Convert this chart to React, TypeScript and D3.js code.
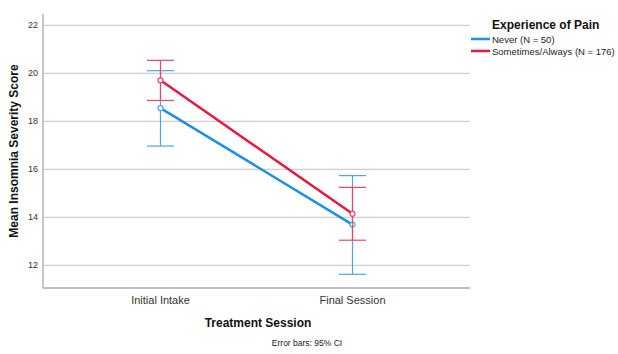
import React, { useEffect, useRef } from "react";
import * as d3 from "d3";

const sessions = ["Initial Intake", "Final Session"];
const seriesNames = ["Never (N = 50)", "Sometimes/Always (N = 176)"];
const seriesColors = ["#1e8ee6", "#e8173f"];
const barColors = ["#4aa6f0", "#ee4466"];
const neverMean = [18.55, 13.7];
const neverLow = [16.97, 11.63];
const neverHigh = [20.11, 15.74];
const painMean = [19.71, 14.15];
const painLow = [18.87, 13.05];
const painHigh = [20.54, 15.25];
const yTicks = [12, 14, 16, 18, 20, 22];

function App() {
  const svgRef = useRef<SVGSVGElement>(null);

  useEffect(() => {
    const svg = d3.select(svgRef.current);
    svg.selectAll("*").remove();
    const font = "'Liberation Sans', Arial, sans-serif";
    const left = 43;
    const right = 470;
    const top = 14;
    const bottom = 288;

    const x = d3.scalePoint().domain(sessions).range([left, right]).padding(0.612);
    const y = d3.scaleLinear().domain([11.06, 22.47]).range([bottom, top]);

    // gridlines
    svg
      .append("g")
      .selectAll("line")
      .data(yTicks)
      .join("line")
      .attr("x1", left)
      .attr("x2", right)
      .attr("y1", (d) => y(d))
      .attr("y2", (d) => y(d))
      .attr("stroke", "#cfcfcf")
      .attr("stroke-width", 1.3);

    // tick labels
    svg
      .append("g")
      .selectAll("text")
      .data(yTicks)
      .join("text")
      .attr("x", 38)
      .attr("y", (d) => y(d) + 3)
      .attr("text-anchor", "end")
      .attr("font-family", font)
      .attr("font-size", 9)
      .attr("fill", "#333")
      .text((d) => d);

    // axes lines
    svg
      .append("line")
      .attr("x1", left)
      .attr("x2", left)
      .attr("y1", top)
      .attr("y2", bottom)
      .attr("stroke", "#aaa")
      .attr("stroke-width", 1.3);
    svg
      .append("line")
      .attr("x1", left)
      .attr("x2", right)
      .attr("y1", bottom)
      .attr("y2", bottom)
      .attr("stroke", "#aaa")
      .attr("stroke-width", 1.3);

    // category labels
    svg
      .append("g")
      .selectAll("text")
      .data(sessions)
      .join("text")
      .attr("x", (d) => x(d)!)
      .attr("y", 304)
      .attr("text-anchor", "middle")
      .attr("font-family", font)
      .attr("font-size", 11)
      .attr("fill", "#333")
      .text((d) => d);

    const series = [
      { mean: neverMean, low: neverLow, high: neverHigh },
      { mean: painMean, low: painLow, high: painHigh },
    ];

    const line = d3
      .line<number>()
      .x((d, i) => x(sessions[i])!)
      .y((d) => y(d));

    series.forEach((s, k) => {
      const g = svg.append("g");
      const cap = 13.5;
      sessions.forEach((c, i) => {
        const cx = x(c)!;
        g.append("line")
          .attr("x1", cx)
          .attr("x2", cx)
          .attr("y1", y(s.low[i]))
          .attr("y2", y(s.high[i]))
          .attr("stroke", barColors[k])
          .attr("stroke-width", 1.2);
        [s.low[i], s.high[i]].forEach((v) => {
          g.append("line")
            .attr("x1", cx - cap)
            .attr("x2", cx + cap)
            .attr("y1", y(v))
            .attr("y2", y(v))
            .attr("stroke", barColors[k])
            .attr("stroke-width", 1.2);
        });
      });
      g.append("path")
        .datum(s.mean)
        .attr("fill", "none")
        .attr("stroke", seriesColors[k])
        .attr("stroke-width", 2.5)
        .attr("d", line);
      g.selectAll("circle")
        .data(s.mean)
        .join("circle")
        .attr("cx", (d, i) => x(sessions[i])!)
        .attr("cy", (d) => y(d))
        .attr("r", 2.5)
        .attr("fill", "white")
        .attr("stroke", barColors[k])
        .attr("stroke-width", 1.2);
    });

    // axis titles
    svg
      .append("text")
      .attr("transform", "translate(18," + (top + bottom) / 2 + ") rotate(-90)")
      .attr("text-anchor", "middle")
      .attr("font-family", font)
      .attr("font-size", 12)
      .attr("font-weight", "bold")
      .attr("fill", "#111")
      .text("Mean Insomnia Severity Score");
    svg
      .append("text")
      .attr("x", 258)
      .attr("y", 327)
      .attr("text-anchor", "middle")
      .attr("font-family", font)
      .attr("font-size", 12)
      .attr("font-weight", "bold")
      .attr("fill", "#111")
      .text("Treatment Session");
    svg
      .append("text")
      .attr("x", 307)
      .attr("y", 346)
      .attr("text-anchor", "middle")
      .attr("font-family", font)
      .attr("font-size", 8.5)
      .attr("fill", "#222")
      .text("Error bars: 95% CI");

    // legend
    svg
      .append("text")
      .attr("x", 492)
      .attr("y", 29)
      .attr("font-family", font)
      .attr("font-size", 12)
      .attr("font-weight", "bold")
      .attr("fill", "#111")
      .text("Experience of Pain");
    seriesNames.forEach((name, k) => {
      const ly = 39 + k * 12;
      svg
        .append("line")
        .attr("x1", 471)
        .attr("x2", 490)
        .attr("y1", ly)
        .attr("y2", ly)
        .attr("stroke", seriesColors[k])
        .attr("stroke-width", 2.5);
      svg
        .append("text")
        .attr("x", 492)
        .attr("y", ly + 3.5)
        .attr("font-family", font)
        .attr("font-size", 9.5)
        .attr("fill", "#222")
        .text(name);
    });
  }, []);

  return (
    <svg
      ref={svgRef}
      width={618}
      height={354}
      style={{ position: "absolute", left: 0, top: 0, background: "white" }}
    ></svg>
  );
}

export default App;
